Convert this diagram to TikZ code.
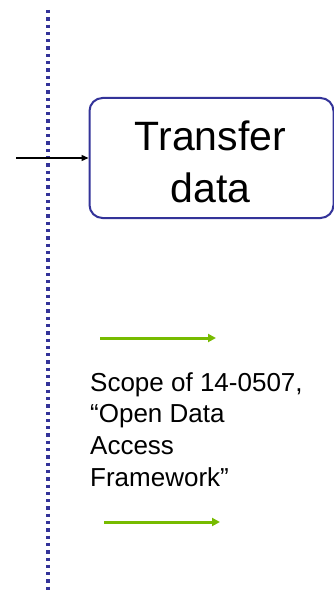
\documentclass[tikz,border=0pt]{standalone}
\usepackage{fontspec}
\setmainfont{Liberation Sans}
\usetikzlibrary{arrows.meta}
\definecolor{dotblue}{HTML}{333399}
\definecolor{boxblue}{HTML}{333399}
\definecolor{limegreen}{HTML}{77BB00}
\tikzset{
  timeline/.style={dotblue, line width=3.3pt, dash pattern=on 3.3pt off 4pt},
  procbox/.style={draw=boxblue, line width=2pt, rounded corners=13pt},
  greenarrow/.style={limegreen, line width=3pt, -{Triangle[length=8pt,width=8pt]}},
  blackarrow/.style={black, line width=1.4pt, -{Triangle[length=7pt,width=6pt]}},
}
\begin{document}
\begin{tikzpicture}[x=1pt,y=-1pt]
\useasboundingbox (0,0) rectangle (334,591);
\coordinate (ltop) at (48,10);
\coordinate (lbot) at (48,591);
\draw[timeline] (ltop) -- (lbot);
\node[procbox, minimum width=244pt, minimum height=120pt, anchor=north west, inner sep=0pt] (box) at (88.5,97) {};
\node[anchor=base, font=\fontsize{41}{52}\selectfont] (t1) at (210.5,150) {Transfer};
\node[anchor=base, font=\fontsize{41}{52}\selectfont] (t2) at (210.5,202) {data};
\coordinate (ain) at (16,158);
\draw[blackarrow] (ain) -- (box.west |- ain);
\coordinate (g1s) at (100,338);
\coordinate (g1e) at (216,338);
\draw[greenarrow] (g1s) -- (g1e);
\node[anchor=base west, inner sep=0pt, font=\fontsize{26}{31.5}\selectfont] (s1) at (90,391) {Scope of 14-0507,};
\node[anchor=base west, inner sep=0pt, font=\fontsize{26}{31.5}\selectfont] (s2) at (90,422) {“Open Data};
\node[anchor=base west, inner sep=0pt, font=\fontsize{26}{31.5}\selectfont] (s3) at (90,454) {Access};
\node[anchor=base west, inner sep=0pt, font=\fontsize{26}{31.5}\selectfont] (s4) at (90,486) {Framework”};
\coordinate (g2s) at (104,522);
\coordinate (g2e) at (220,522);
\draw[greenarrow] (g2s) -- (g2e);
\end{tikzpicture}
\end{document}
